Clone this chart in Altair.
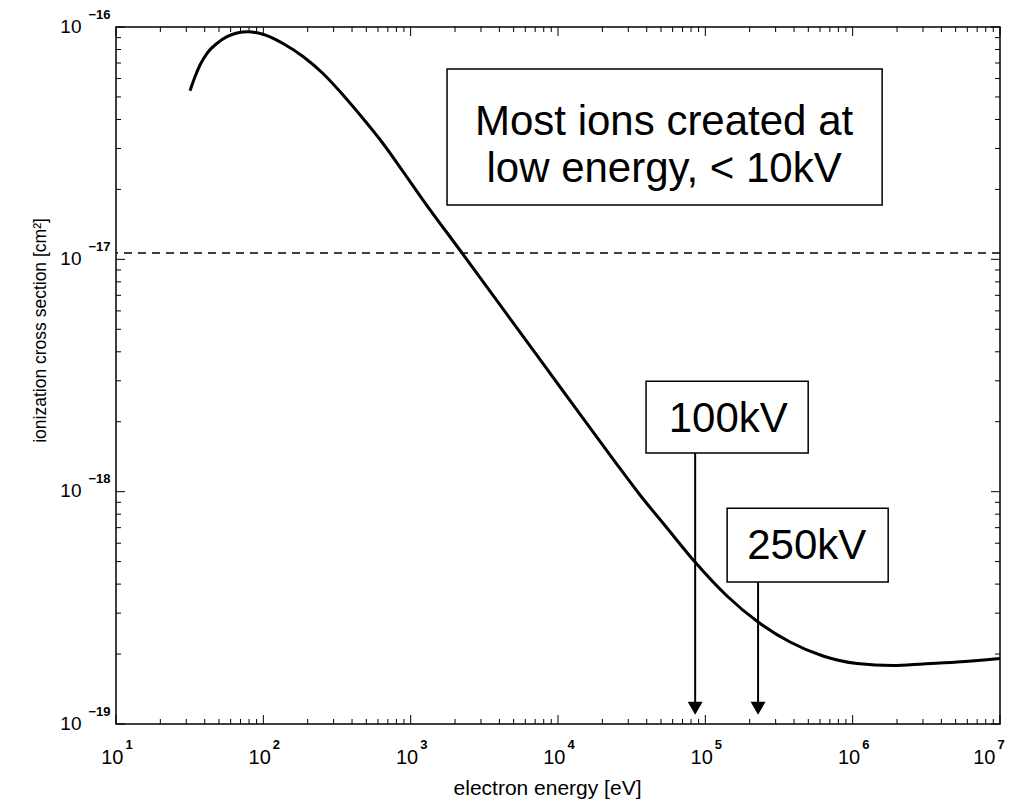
import altair as alt
import pandas as pd

# ---------------- data ----------------
energy_eV = [31.79, 34.38, 37.17, 41.47, 48.48, 56.67, 66.25, 78.70, 99.49,
             135.98, 185.9, 254.1, 347.3, 474.8, 649.1, 887.2, 1213, 2231,
             4950, 10815, 23630, 36030, 54950, 85100, 140370, 227900, 375600,
             629300, 1070500, 1878000, 3003000, 5109000, 10000000]
cross_section_cm2 = [5.318e-17, 6.11e-17, 6.862e-17, 7.706e-17, 8.508e-17,
                     9.085e-17, 9.423e-17, 9.535e-17, 9.302e-17, 8.491e-17,
                     7.464e-17, 6.306e-17, 5.097e-17, 4.038e-17, 3.152e-17,
                     2.388e-17, 1.800e-17, 1.065e-17, 5.346e-18, 2.712e-18,
                     1.382e-18, 9.674e-19, 6.976e-19, 4.980e-19, 3.556e-19,
                     2.748e-19, 2.254e-19, 1.962e-19, 1.821e-19, 1.785e-19,
                     1.812e-19, 1.848e-19, 1.913e-19]
threshold_cm2 = [1.064e-17]

# axis ticks (log decades and minor ticks)
x_major = [1e1, 1e2, 1e3, 1e4, 1e5, 1e6, 1e7]
x_minor = [20, 30, 40, 50, 60, 70, 80, 90,
           200, 300, 400, 500, 600, 700, 800, 900,
           2e3, 3e3, 4e3, 5e3, 6e3, 7e3, 8e3, 9e3,
           2e4, 3e4, 4e4, 5e4, 6e4, 7e4, 8e4, 9e4,
           2e5, 3e5, 4e5, 5e5, 6e5, 7e5, 8e5, 9e5,
           2e6, 3e6, 4e6, 5e6, 6e6, 7e6, 8e6, 9e6]
y_major = [1e-19, 1e-18, 1e-17, 1e-16]
y_minor = [2e-19, 3e-19, 4e-19, 5e-19, 6e-19, 7e-19, 8e-19, 9e-19,
           2e-18, 3e-18, 4e-18, 5e-18, 6e-18, 7e-18, 8e-18, 9e-18,
           2e-17, 3e-17, 4e-17, 5e-17, 6e-17, 7e-17, 8e-17, 9e-17]

# annotation texts
note_lines = ["Most ions created at", "low energy, < 10kV"]
kv_labels = ["100kV", "250kV"]

# annotation placement (data coordinates)
note_box = {"x": 1766, "x2": 1.585e6, "y": 6.59e-17, "y2": 1.714e-17}
note_text_x = [52480, 52480]
note_text_y = [3.43e-17, 2.15e-17]
kv_box_x = [3.96e4, 1.406e5]
kv_box_x2 = [4.99e5, 1.742e6]
kv_box_y = [2.99e-18, 8.49e-19]
kv_box_y2 = [1.466e-18, 4.08e-19]
kv_text_x = [1.43e5, 4.88e5]
kv_text_y = [1.807e-18, 5.13e-19]
arrow_x = [8.53e4, 2.28e5]
arrow_head_y = [1.17e-19, 1.17e-19]

# ---------------- layout ----------------
W, H = 884, 697
FONT = "Liberation Sans"
MAJ, MIN = 9, 5

X = alt.Scale(type="log", domain=[10, 1e7], nice=False)
Y = alt.Scale(type="log", domain=[1e-19, 1e-16], nice=False)

curve = pd.DataFrame({"E": energy_eV, "s": cross_section_cm2})
xmaj = pd.DataFrame({"v": x_major})
xmin = pd.DataFrame({"v": x_minor})
ymaj = pd.DataFrame({"v": y_major})
ymin = pd.DataFrame({"v": y_minor})

axis_x_base = alt.Axis(values=x_major, labelExpr="'10'", labelFont=FONT,
                       labelFontSize=20, labelColor="black", labelAlign="right",
                       labelOffset={"condition": {"test": "datum.value > 5000000",
                                                  "value": -5}, "value": 7},
                       labelBaseline="alphabetic", labelPadding=39,
                       labelFlush=False, labelOverlap=False, ticks=False,
                       domain=False, grid=False, orient="bottom",
                       title="electron energy [eV]", titleFont=FONT,
                       titleFontSize=21, titleFontWeight="normal",
                       titleColor="black", titleX=431, titleY=70,
                       titleAlign="center", titleBaseline="alphabetic")
axis_x_exp = alt.Axis(values=x_major,
                      labelExpr="'' + round(log(datum.value) / LN10)",
                      labelFont=FONT, labelFontSize=13, labelFontWeight="bold",
                      labelColor="black", labelAlign="left",
                      labelOffset={"condition": {"test": "datum.value > 5000000",
                                                 "value": -3}, "value": 9},
                      labelBaseline="alphabetic", labelPadding=24,
                      labelFlush=False, labelOverlap=False, ticks=False,
                      domain=False, grid=False, orient="bottom", title=None)
axis_y_base = alt.Axis(values=y_major, labelExpr="'10'", labelFont=FONT,
                       labelFontSize=19, labelColor="black", labelAlign="right",
                       labelPadding=35, labelBaseline="alphabetic", labelOffset=5,
                       labelFlush=False, labelOverlap=False, ticks=False,
                       domain=False, grid=False, orient="left",
                       title="ionization cross section [cm²]", titleFont=FONT,
                       titleFontSize=17.5, titleFontWeight="normal",
                       titleColor="black", titleAngle=270, titleX=-71,
                       titleY=303, titleAlign="center",
                       titleBaseline="alphabetic")
axis_y_exp = alt.Axis(values=y_major,
                      labelExpr="'\u2212' + round(-log(datum.value) / LN10)",
                      labelFont=FONT, labelFontSize=13, labelFontWeight="bold",
                      labelColor="black", labelAlign="right", labelPadding=6,
                      labelBaseline="alphabetic", labelOffset=-9, labelFlush=False,
                      labelOverlap=False, ticks=False, domain=False, grid=False,
                      orient="left", title=None)


def xticks(df, y0, y1, axis=None):
    return alt.Chart(df).mark_rule(color="black", strokeWidth=1).encode(
        x=alt.X("v:Q", scale=X, axis=axis), y=alt.value(y0), y2=alt.value(y1))


def yticks(df, x0, x1, axis=None):
    return alt.Chart(df).mark_rule(color="black", strokeWidth=1).encode(
        y=alt.Y("v:Q", scale=Y, axis=axis), x=alt.value(x0), x2=alt.value(x1))


ticks = [
    xticks(xmaj, H, H - MAJ, axis_x_exp),
    xticks(xmin, H, H - MIN),
    xticks(xmaj, 0, MAJ),
    xticks(xmin, 0, MIN),
    yticks(ymaj, 0, MAJ, axis_y_exp),
    yticks(ymin, 0, MIN),
    yticks(ymaj, W, W - MAJ),
    yticks(ymin, W, W - MIN),
]

dashed = alt.Chart(pd.DataFrame({"t": threshold_cm2})).mark_rule(
    color="black", strokeWidth=1.5, strokeDash=[8, 6]).encode(
    y=alt.Y("t:Q", scale=Y, axis=None))

line = alt.Chart(curve).mark_line(color="black", strokeWidth=3,
                                  interpolate="monotone").encode(
    x=alt.X("E:Q", scale=X, axis=axis_x_base),
    y=alt.Y("s:Q", scale=Y, axis=axis_y_base))

kv = pd.DataFrame({"label": kv_labels, "bx": kv_box_x, "bx2": kv_box_x2,
                   "by": kv_box_y, "by2": kv_box_y2, "tx": kv_text_x,
                   "ty": kv_text_y, "ax": arrow_x, "ay": arrow_head_y})

arrows = alt.Chart(kv).mark_rule(color="black", strokeWidth=2).encode(
    x=alt.X("ax:Q", scale=X, axis=None),
    y=alt.Y("by2:Q", scale=Y, axis=None), y2="ay:Q")
heads = alt.Chart(kv).mark_point(shape="triangle-down", filled=True, size=225,
                                 color="black", opacity=1).encode(
    x=alt.X("ax:Q", scale=X, axis=None), y=alt.Y("ay:Q", scale=Y, axis=None))

kv_boxes = alt.Chart(kv).mark_rect(fill="white", stroke="black",
                                   strokeWidth=1.5).encode(
    x=alt.X("bx:Q", scale=X, axis=None), x2="bx2:Q",
    y=alt.Y("by:Q", scale=Y, axis=None), y2="by2:Q")
kv_text = alt.Chart(kv).mark_text(font=FONT, fontSize=42, color="black",
                                  align="center", baseline="alphabetic").encode(
    x=alt.X("tx:Q", scale=X, axis=None), y=alt.Y("ty:Q", scale=Y, axis=None),
    text="label:N")

note_df = pd.DataFrame([note_box])
note_rect = alt.Chart(note_df).mark_rect(fill="white", stroke="black",
                                         strokeWidth=1.5).encode(
    x=alt.X("x:Q", scale=X, axis=None), x2="x2:Q",
    y=alt.Y("y:Q", scale=Y, axis=None), y2="y2:Q")
note_txt = alt.Chart(pd.DataFrame({"t": note_lines, "x": note_text_x,
                                   "y": note_text_y})).mark_text(
    font=FONT, fontSize=42, color="black", align="center",
    baseline="alphabetic").encode(
    x=alt.X("x:Q", scale=X, axis=None), y=alt.Y("y:Q", scale=Y, axis=None),
    text="t:N")

chart = alt.layer(
    *ticks, dashed, line, arrows, heads, kv_boxes, kv_text, note_rect, note_txt
).resolve_axis(x="independent", y="independent").properties(
    width=W, height=H,
    autosize=alt.AutoSizeParams(type="none"),
    padding={"left": 108, "top": 19, "right": 7, "bottom": 78},
    background="white",
).configure_view(stroke="black", strokeWidth=1.5)

chart.save("out.html", embed_options={"renderer": "svg", "actions": False})
